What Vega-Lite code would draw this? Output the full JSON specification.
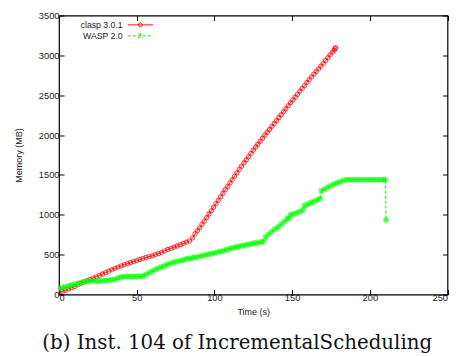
{
  "$schema": "https://vega.github.io/schema/vega-lite/v6.json",
  "width": 388.5,
  "height": 279,
  "autosize": "none",
  "padding": {"left": 59, "top": 15.5, "right": 9.5, "bottom": 61.5},
  "background": "white",
  "config": {
    "view": {"stroke": "black", "strokeWidth": 1.2},
    "font": "Liberation Sans",
    "axis": {"grid": false, "domain": false, "tickColor": "black", "tickSize": -5, "tickWidth": 1, "labelFont": "Liberation Sans", "labelFontSize": 9.3, "labelColor": "#222", "titleFont": "Liberation Sans", "titleFontSize": 9, "titleFontWeight": "normal", "titleColor": "#222"}
  },
  "title": {"text": "(b) Inst. 104 of IncrementalScheduling", "orient": "bottom", "anchor": "middle", "font": "DejaVu Serif", "fontSize": 19.8, "fontWeight": "normal", "color": "#111", "offset": 16, "dx": -16},
  "data": {"values": [
    {"series": "clasp 3.0.1", "t": 0, "mem": 25}, {"series": "clasp 3.0.1", "t": 2, "mem": 39}, {"series": "clasp 3.0.1", "t": 4, "mem": 53}, {"series": "clasp 3.0.1", "t": 6, "mem": 68}, {"series": "clasp 3.0.1", "t": 8, "mem": 84}, {"series": "clasp 3.0.1", "t": 10, "mem": 100}, {"series": "clasp 3.0.1", "t": 12, "mem": 120}, {"series": "clasp 3.0.1", "t": 14, "mem": 140}, {"series": "clasp 3.0.1", "t": 16, "mem": 158}, {"series": "clasp 3.0.1", "t": 18, "mem": 174}, {"series": "clasp 3.0.1", "t": 20, "mem": 190}, {"series": "clasp 3.0.1", "t": 22, "mem": 206}, {"series": "clasp 3.0.1", "t": 24, "mem": 222}, {"series": "clasp 3.0.1", "t": 26, "mem": 239}, {"series": "clasp 3.0.1", "t": 28, "mem": 257}, {"series": "clasp 3.0.1", "t": 30, "mem": 275}, {"series": "clasp 3.0.1", "t": 32, "mem": 293}, {"series": "clasp 3.0.1", "t": 34, "mem": 311}, {"series": "clasp 3.0.1", "t": 36, "mem": 328}, {"series": "clasp 3.0.1", "t": 38, "mem": 344}, {"series": "clasp 3.0.1", "t": 40, "mem": 360}, {"series": "clasp 3.0.1", "t": 42, "mem": 374}, {"series": "clasp 3.0.1", "t": 44, "mem": 388}, {"series": "clasp 3.0.1", "t": 46, "mem": 401}, {"series": "clasp 3.0.1", "t": 48, "mem": 413}, {"series": "clasp 3.0.1", "t": 50, "mem": 425}, {"series": "clasp 3.0.1", "t": 52, "mem": 439}, {"series": "clasp 3.0.1", "t": 54, "mem": 453}, {"series": "clasp 3.0.1", "t": 56, "mem": 465}, {"series": "clasp 3.0.1", "t": 58, "mem": 475}, {"series": "clasp 3.0.1", "t": 60, "mem": 485}, {"series": "clasp 3.0.1", "t": 62, "mem": 499}, {"series": "clasp 3.0.1", "t": 64, "mem": 513}, {"series": "clasp 3.0.1", "t": 66, "mem": 529}, {"series": "clasp 3.0.1", "t": 68, "mem": 547}, {"series": "clasp 3.0.1", "t": 70, "mem": 565}, {"series": "clasp 3.0.1", "t": 72, "mem": 579}, {"series": "clasp 3.0.1", "t": 74, "mem": 593}, {"series": "clasp 3.0.1", "t": 76, "mem": 608}, {"series": "clasp 3.0.1", "t": 78, "mem": 624}, {"series": "clasp 3.0.1", "t": 80, "mem": 640}, {"series": "clasp 3.0.1", "t": 82, "mem": 656}, {"series": "clasp 3.0.1", "t": 84, "mem": 672},
    {"series": "clasp 3.0.1", "t": 86, "mem": 710}, {"series": "clasp 3.0.1", "t": 87.5, "mem": 760}, {"series": "clasp 3.0.1", "t": 89, "mem": 800}, {"series": "clasp 3.0.1", "t": 90.5, "mem": 835}, {"series": "clasp 3.0.1", "t": 92, "mem": 880}, {"series": "clasp 3.0.1", "t": 93.5, "mem": 920}, {"series": "clasp 3.0.1", "t": 95, "mem": 965}, {"series": "clasp 3.0.1", "t": 96.5, "mem": 1010}, {"series": "clasp 3.0.1", "t": 98, "mem": 1050}, {"series": "clasp 3.0.1", "t": 99.5, "mem": 1095}, {"series": "clasp 3.0.1", "t": 101, "mem": 1140}, {"series": "clasp 3.0.1", "t": 102.5, "mem": 1180}, {"series": "clasp 3.0.1", "t": 104, "mem": 1225}, {"series": "clasp 3.0.1", "t": 105.5, "mem": 1270}, {"series": "clasp 3.0.1", "t": 107, "mem": 1315}, {"series": "clasp 3.0.1", "t": 108.5, "mem": 1355}, {"series": "clasp 3.0.1", "t": 110, "mem": 1400}, {"series": "clasp 3.0.1", "t": 111.5, "mem": 1440}, {"series": "clasp 3.0.1", "t": 113, "mem": 1485}, {"series": "clasp 3.0.1", "t": 114.5, "mem": 1525}, {"series": "clasp 3.0.1", "t": 116, "mem": 1570}, {"series": "clasp 3.0.1", "t": 117.5, "mem": 1610}, {"series": "clasp 3.0.1", "t": 119, "mem": 1650}, {"series": "clasp 3.0.1", "t": 120.5, "mem": 1690}, {"series": "clasp 3.0.1", "t": 122, "mem": 1730}, {"series": "clasp 3.0.1", "t": 123.5, "mem": 1770}, {"series": "clasp 3.0.1", "t": 125, "mem": 1810}, {"series": "clasp 3.0.1", "t": 126.5, "mem": 1850}, {"series": "clasp 3.0.1", "t": 128, "mem": 1885}, {"series": "clasp 3.0.1", "t": 129.5, "mem": 1925}, {"series": "clasp 3.0.1", "t": 131, "mem": 1960}, {"series": "clasp 3.0.1", "t": 132.5, "mem": 2000}, {"series": "clasp 3.0.1", "t": 134, "mem": 2035}, {"series": "clasp 3.0.1", "t": 135.5, "mem": 2070}, {"series": "clasp 3.0.1", "t": 137, "mem": 2110}, {"series": "clasp 3.0.1", "t": 138.5, "mem": 2145}, {"series": "clasp 3.0.1", "t": 140, "mem": 2180}, {"series": "clasp 3.0.1", "t": 141.5, "mem": 2220}, {"series": "clasp 3.0.1", "t": 143, "mem": 2255}, {"series": "clasp 3.0.1", "t": 144.5, "mem": 2295}, {"series": "clasp 3.0.1", "t": 146, "mem": 2330}, {"series": "clasp 3.0.1", "t": 147.5, "mem": 2370}, {"series": "clasp 3.0.1", "t": 149, "mem": 2405}, {"series": "clasp 3.0.1", "t": 150.5, "mem": 2440}, {"series": "clasp 3.0.1", "t": 152, "mem": 2475}, {"series": "clasp 3.0.1", "t": 153.5, "mem": 2510}, {"series": "clasp 3.0.1", "t": 155, "mem": 2550}, {"series": "clasp 3.0.1", "t": 156.5, "mem": 2585}, {"series": "clasp 3.0.1", "t": 158, "mem": 2620}, {"series": "clasp 3.0.1", "t": 159.5, "mem": 2660}, {"series": "clasp 3.0.1", "t": 161, "mem": 2695}, {"series": "clasp 3.0.1", "t": 162.5, "mem": 2730}, {"series": "clasp 3.0.1", "t": 164, "mem": 2765}, {"series": "clasp 3.0.1", "t": 165.5, "mem": 2800}, {"series": "clasp 3.0.1", "t": 167, "mem": 2830}, {"series": "clasp 3.0.1", "t": 168.5, "mem": 2865}, {"series": "clasp 3.0.1", "t": 170, "mem": 2900}, {"series": "clasp 3.0.1", "t": 171.5, "mem": 2935}, {"series": "clasp 3.0.1", "t": 173, "mem": 2970}, {"series": "clasp 3.0.1", "t": 174.5, "mem": 3005}, {"series": "clasp 3.0.1", "t": 176, "mem": 3040}, {"series": "clasp 3.0.1", "t": 177, "mem": 3065}, {"series": "clasp 3.0.1", "t": 177.6, "mem": 3085}, {"series": "clasp 3.0.1", "t": 178, "mem": 3095},
    {"series": "WASP 2.0", "t": 0, "mem": 75}, {"series": "WASP 2.0", "t": 2, "mem": 85}, {"series": "WASP 2.0", "t": 4, "mem": 95}, {"series": "WASP 2.0", "t": 6, "mem": 105}, {"series": "WASP 2.0", "t": 8, "mem": 115}, {"series": "WASP 2.0", "t": 10, "mem": 125}, {"series": "WASP 2.0", "t": 12, "mem": 137}, {"series": "WASP 2.0", "t": 14, "mem": 148}, {"series": "WASP 2.0", "t": 16, "mem": 158}, {"series": "WASP 2.0", "t": 18, "mem": 165}, {"series": "WASP 2.0", "t": 20, "mem": 170}, {"series": "WASP 2.0", "t": 22, "mem": 170}, {"series": "WASP 2.0", "t": 24, "mem": 171}, {"series": "WASP 2.0", "t": 26, "mem": 172}, {"series": "WASP 2.0", "t": 28, "mem": 173}, {"series": "WASP 2.0", "t": 30, "mem": 175}, {"series": "WASP 2.0", "t": 32, "mem": 178}, {"series": "WASP 2.0", "t": 34, "mem": 182}, {"series": "WASP 2.0", "t": 36, "mem": 190}, {"series": "WASP 2.0", "t": 38, "mem": 205}, {"series": "WASP 2.0", "t": 40, "mem": 218}, {"series": "WASP 2.0", "t": 42, "mem": 222}, {"series": "WASP 2.0", "t": 44, "mem": 224}, {"series": "WASP 2.0", "t": 46, "mem": 225}, {"series": "WASP 2.0", "t": 48, "mem": 225}, {"series": "WASP 2.0", "t": 50, "mem": 226}, {"series": "WASP 2.0", "t": 52, "mem": 228}, {"series": "WASP 2.0", "t": 54, "mem": 232}, {"series": "WASP 2.0", "t": 56, "mem": 250}, {"series": "WASP 2.0", "t": 58, "mem": 272}, {"series": "WASP 2.0", "t": 60, "mem": 292}, {"series": "WASP 2.0", "t": 62, "mem": 312}, {"series": "WASP 2.0", "t": 64, "mem": 330}, {"series": "WASP 2.0", "t": 66, "mem": 345}, {"series": "WASP 2.0", "t": 68, "mem": 360}, {"series": "WASP 2.0", "t": 70, "mem": 378}, {"series": "WASP 2.0", "t": 72, "mem": 392}, {"series": "WASP 2.0", "t": 74, "mem": 404}, {"series": "WASP 2.0", "t": 76, "mem": 414}, {"series": "WASP 2.0", "t": 78, "mem": 424}, {"series": "WASP 2.0", "t": 80, "mem": 434}, {"series": "WASP 2.0", "t": 82, "mem": 444}, {"series": "WASP 2.0", "t": 84, "mem": 452}, {"series": "WASP 2.0", "t": 86, "mem": 460}, {"series": "WASP 2.0", "t": 88, "mem": 468}, {"series": "WASP 2.0", "t": 90, "mem": 476}, {"series": "WASP 2.0", "t": 92, "mem": 486}, {"series": "WASP 2.0", "t": 94, "mem": 495}, {"series": "WASP 2.0", "t": 96, "mem": 504}, {"series": "WASP 2.0", "t": 98, "mem": 512}, {"series": "WASP 2.0", "t": 100, "mem": 520}, {"series": "WASP 2.0", "t": 102, "mem": 530}, {"series": "WASP 2.0", "t": 104, "mem": 540}, {"series": "WASP 2.0", "t": 106, "mem": 551}, {"series": "WASP 2.0", "t": 108, "mem": 563}, {"series": "WASP 2.0", "t": 110, "mem": 575}, {"series": "WASP 2.0", "t": 112, "mem": 585}, {"series": "WASP 2.0", "t": 114, "mem": 595}, {"series": "WASP 2.0", "t": 116, "mem": 604}, {"series": "WASP 2.0", "t": 118, "mem": 612}, {"series": "WASP 2.0", "t": 120, "mem": 620}, {"series": "WASP 2.0", "t": 122, "mem": 628}, {"series": "WASP 2.0", "t": 124, "mem": 636}, {"series": "WASP 2.0", "t": 126, "mem": 644}, {"series": "WASP 2.0", "t": 128, "mem": 650}, {"series": "WASP 2.0", "t": 130, "mem": 658}, {"series": "WASP 2.0", "t": 131.5, "mem": 665}, {"series": "WASP 2.0", "t": 133, "mem": 720}, {"series": "WASP 2.0", "t": 135, "mem": 755}, {"series": "WASP 2.0", "t": 137, "mem": 790}, {"series": "WASP 2.0", "t": 139, "mem": 820}, {"series": "WASP 2.0", "t": 141, "mem": 845}, {"series": "WASP 2.0", "t": 143, "mem": 880}, {"series": "WASP 2.0", "t": 145, "mem": 915}, {"series": "WASP 2.0", "t": 147, "mem": 950}, {"series": "WASP 2.0", "t": 148, "mem": 960}, {"series": "WASP 2.0", "t": 149, "mem": 1000}, {"series": "WASP 2.0", "t": 151, "mem": 1010}, {"series": "WASP 2.0", "t": 153, "mem": 1025}, {"series": "WASP 2.0", "t": 155, "mem": 1040}, {"series": "WASP 2.0", "t": 157, "mem": 1060}, {"series": "WASP 2.0", "t": 158, "mem": 1115}, {"series": "WASP 2.0", "t": 160, "mem": 1130}, {"series": "WASP 2.0", "t": 162, "mem": 1150}, {"series": "WASP 2.0", "t": 164, "mem": 1165}, {"series": "WASP 2.0", "t": 166, "mem": 1185}, {"series": "WASP 2.0", "t": 168, "mem": 1205}, {"series": "WASP 2.0", "t": 169, "mem": 1300}, {"series": "WASP 2.0", "t": 171, "mem": 1320}, {"series": "WASP 2.0", "t": 173, "mem": 1345}, {"series": "WASP 2.0", "t": 175, "mem": 1365}, {"series": "WASP 2.0", "t": 177, "mem": 1385}, {"series": "WASP 2.0", "t": 179, "mem": 1400}, {"series": "WASP 2.0", "t": 181, "mem": 1415}, {"series": "WASP 2.0", "t": 183, "mem": 1430}, {"series": "WASP 2.0", "t": 185, "mem": 1440}, {"series": "WASP 2.0", "t": 187, "mem": 1440}, {"series": "WASP 2.0", "t": 189, "mem": 1440}, {"series": "WASP 2.0", "t": 191, "mem": 1440}, {"series": "WASP 2.0", "t": 193, "mem": 1440}, {"series": "WASP 2.0", "t": 195, "mem": 1440}, {"series": "WASP 2.0", "t": 197, "mem": 1440}, {"series": "WASP 2.0", "t": 199, "mem": 1440}, {"series": "WASP 2.0", "t": 201, "mem": 1440}, {"series": "WASP 2.0", "t": 203, "mem": 1440}, {"series": "WASP 2.0", "t": 205, "mem": 1440}, {"series": "WASP 2.0", "t": 207, "mem": 1440}, {"series": "WASP 2.0", "t": 209, "mem": 1440}, {"series": "WASP 2.0", "t": 210, "mem": 1440}, {"series": "WASP 2.0", "t": 210.5, "mem": 935}
  ]},
  "layer": [
    {
      "mark": {"type": "line", "strokeWidth": 1, "clip": true},
      "encoding": {
        "x": {"field": "t", "type": "quantitative", "scale": {"domain": [0, 250], "nice": false, "zero": false}, "axis": {"orient": "bottom", "values": [0, 50, 100, 150, 200, 250], "title": "Time (s)", "labelPadding": 4, "titlePadding": 5}},
        "y": {"field": "mem", "type": "quantitative", "scale": {"domain": [0, 3500], "nice": false}, "axis": {"orient": "left", "values": [0, 500, 1000, 1500, 2000, 2500, 3000, 3500], "format": "d", "title": "Memory (MB)", "labelPadding": 5, "titlePadding": 15}},
        "color": {"field": "series", "type": "nominal", "scale": {"domain": ["clasp 3.0.1", "WASP 2.0"], "range": ["#ff0000", "#00ff00"]},
          "legend": {"title": null, "orient": "none", "legendX": 77, "legendY": 5, "padding": 0, "rowPadding": 0, "symbolSize": 25, "symbolStrokeWidth": 1, "labelAlign": "right", "labelOffset": -22, "labelFont": "Liberation Sans", "labelFontSize": 8.7, "labelColor": "#222",
            "encode": {"symbols": {"update": {
              "shape": {"signal": "datum.value === 'clasp 3.0.1' ? 'M-5,0L5,0M0.8,0A0.8,0.8,0,1,1,-0.8,0A0.8,0.8,0,1,1,0.8,0' : 'M-5,0L5,0M-0.9,-0.9L0.9,0.9M-0.9,0.9L0.9,-0.9M0,-1.1L0,1.1'"},
              "strokeDash": {"signal": "datum.value === 'WASP 2.0' ? [2,1.5] : [1,0]"},
              "fill": {"value": "transparent"}
            }}}}},
        "strokeDash": {"field": "series", "type": "nominal", "scale": {"domain": ["clasp 3.0.1", "WASP 2.0"], "range": [[1, 0], [3, 2]]}, "legend": null}
      }
    },
    {
      "transform": [{"filter": "datum.series === 'clasp 3.0.1'"}],
      "mark": {"type": "point", "filled": false, "strokeWidth": 1.1, "shape": "circle", "color": "#ff0000", "size": 18, "clip": true},
      "encoding": {
        "x": {"field": "t", "type": "quantitative", "scale": {"domain": [0, 250], "nice": false, "zero": false}, "axis": {"orient": "top", "values": [0, 50, 100, 150, 200, 250], "labels": false, "title": null}},
        "y": {"field": "mem", "type": "quantitative", "scale": {"domain": [0, 3500], "nice": false}, "axis": {"orient": "right", "values": [0, 500, 1000, 1500, 2000, 2500, 3000, 3500], "labels": false, "title": null}}
      }
    },
    {
      "transform": [{"filter": "datum.series === 'WASP 2.0'"}],
      "mark": {"type": "point", "filled": false, "strokeWidth": 1.3, "shape": "M-1,-1L1,1M-1,1L1,-1M0,-1.3L0,1.3M-1.3,0L1.3,0", "color": "#00ff00", "size": 22, "clip": true},
      "encoding": {
        "x": {"field": "t", "type": "quantitative", "scale": {"domain": [0, 250], "nice": false, "zero": false}, "axis": null},
        "y": {"field": "mem", "type": "quantitative", "scale": {"domain": [0, 3500], "nice": false}, "axis": null}
      }
    }
  ],
  "resolve": {"axis": {"x": "independent", "y": "independent"}}
}
